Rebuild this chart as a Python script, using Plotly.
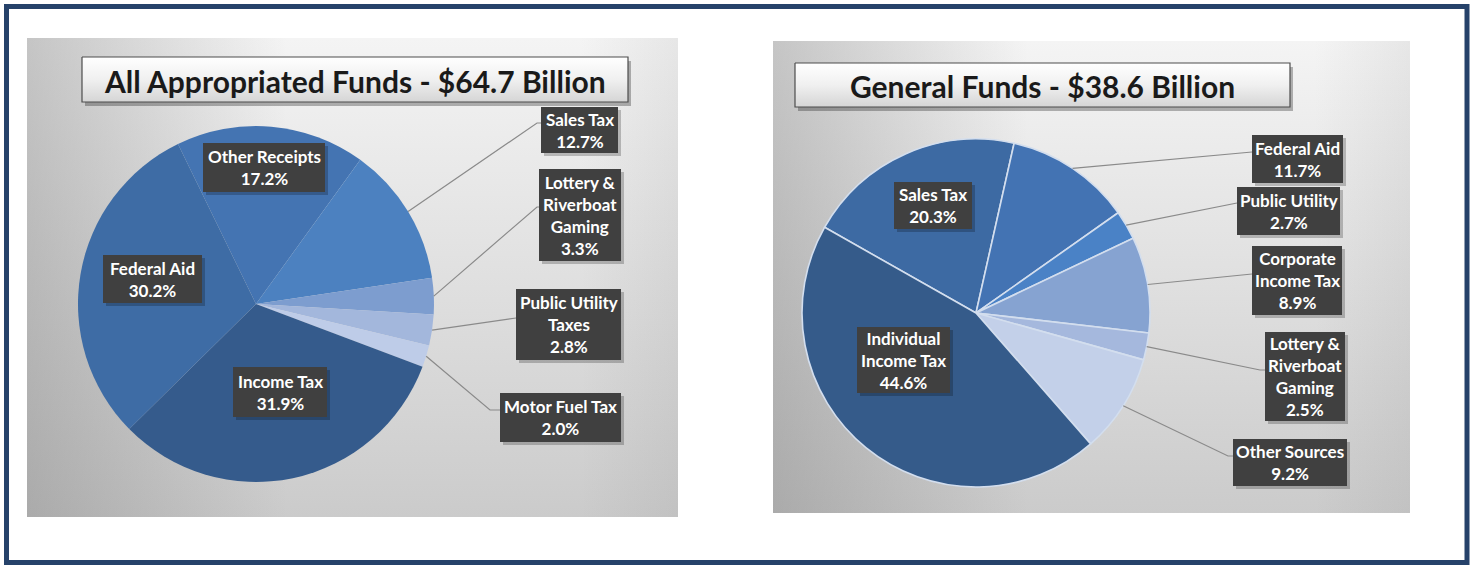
import math
import plotly.graph_objects as go

W, H = 1474, 565

# ---- data -----------------------------------------------------------------
all_title = "All Appropriated Funds - $64.7 Billion"
all_categories = ["Other Receipts", "Sales Tax", "Lottery &\nRiverboat\nGaming",
                  "Public Utility\nTaxes", "Motor Fuel Tax", "Income Tax", "Federal Aid"]
all_shares = [17.2, 12.7, 3.3, 2.8, 2.0, 31.9, 30.2]

gen_title = "General Funds - $38.6 Billion"
gen_categories = ["Sales Tax", "Federal Aid", "Public Utility", "Corporate\nIncome Tax",
                  "Lottery &\nRiverboat\nGaming", "Other Sources", "Individual\nIncome Tax"]
gen_shares = [20.3, 11.7, 2.7, 8.9, 2.5, 9.2, 44.6]

# ---- styling / layout ------------------------------------------------------
FONT = "Lato"
LABEL_BG = "#404040"
LEADER = "#8a8a8a"
FRAME = "#26426a"

all_colors = ["#4474b2", "#4c81c0", "#7d9dcf", "#a3b7dc", "#becce8", "#355b8c", "#3e6ca5"]
gen_colors = ["#3d6aa3", "#4373b3", "#4a82c6", "#86a3d1", "#a5b8dd", "#c3d0e9", "#355b8a"]

panels = [
    dict(
        title=all_title, cats=all_categories, vals=all_shares, colors=all_colors,
        bg=(27, 38, 678, 517), title_box=(82, 57, 628, 102),
        center=(256, 304), radius=178, rotation=-26, slice_line=0,
        boxes=[(203, 143, 325, 192), (541, 107, 618, 153), (539, 169, 621, 261),
               (516, 289, 621, 360), (500, 393, 621, 442), (233, 367, 327, 417),
               (103, 255, 202, 303)],
        # elbow point and box attachment point of each leader (None = label inside)
        leaders=[None, ((537, 123), (541, 123)), ((537, 207), (539, 207)),
                 (None, (516, 318)), ((490, 410), (500, 410)), None, None],
    ),
    dict(
        title=gen_title, cats=gen_categories, vals=gen_shares, colors=gen_colors,
        bg=(773, 41, 1410, 513), title_box=(795, 63, 1290, 107),
        center=(976, 313), radius=174, rotation=-60.5, slice_line=1.6,
        boxes=[(894, 182, 972, 229), (1252, 135, 1343, 183), (1237, 187, 1340, 235),
               (1252, 246, 1342, 315), (1265, 332, 1345, 421), (1233, 439, 1347, 486),
               (857, 327, 950, 393)],
        leaders=[None, (None, (1252, 152)), (None, (1237, 203)), (None, (1252, 274)),
                 ((1260, 370), (1265, 370)), ((1228, 456), (1233, 456)), None],
    ),
]


def rect_xy(x0, y0, x1, y1):
    return [x0, x1, x1, x0, x0], [y0, y0, y1, y1, y0]


fig = go.Figure()
shapes = []
annotations = []

# outer frame
shapes.append(dict(type="rect", xref="x", yref="y", x0=6.5, y0=6.5, x1=1467, y1=562.5,
                   line=dict(color=FRAME, width=5), fillcolor="rgba(0,0,0,0)", layer="below"))

for p in panels:
    x0, y0, x1, y1 = p["bg"]
    xs, ys = rect_xy(x0, y0, x1, y1)
    # panel background: light at the top fading to grey, darker towards the left edge
    fig.add_trace(go.Scatter(
        x=xs, y=ys, mode="none", fill="toself", hoverinfo="skip", showlegend=False,
        fillgradient=dict(type="vertical",
                          colorscale=[[0, "#cbcbcb"], [0.55, "#e2e2e2"], [1, "#f4f4f4"]])))
    fig.add_trace(go.Scatter(
        x=xs, y=ys, mode="none", fill="toself", hoverinfo="skip", showlegend=False,
        fillgradient=dict(type="horizontal",
                          colorscale=[[0, "rgba(110,110,110,0.35)"], [0.4, "rgba(110,110,110,0)"],
                                      [0.85, "rgba(110,110,110,0)"], [1, "rgba(110,110,110,0.1)"]])))

    # title box with shadow
    tx0, ty0, tx1, ty1 = p["title_box"]
    sx, sy = rect_xy(tx0 + 3, ty0 + 4, tx1 + 3, ty1 + 4)
    fig.add_trace(go.Scatter(x=sx, y=sy, mode="none", fill="toself", hoverinfo="skip",
                             showlegend=False, fillcolor="rgba(0,0,0,0.28)"))
    bx, by = rect_xy(tx0, ty0, tx1, ty1)
    fig.add_trace(go.Scatter(
        x=bx, y=by, mode="lines", fill="toself", hoverinfo="skip", showlegend=False,
        line=dict(color="#4d4d4d", width=1.2),
        fillgradient=dict(type="vertical",
                          colorscale=[[0, "#d5d5d5"], [0.5, "#f0f0f0"], [1, "#ffffff"]])))
    annotations.append(dict(x=(tx0 + tx1) / 2, y=(ty0 + ty1) / 2 + 1, xref="x", yref="y",
                            text=p["title"], showarrow=False,
                            font=dict(family=FONT, size=30, color="#1a1a1a", weight="bold")))

    # pie
    cx, cy = p["center"]
    r = p["radius"]
    fig.add_trace(go.Pie(
        labels=[c.replace("\n", " ") for c in p["cats"]], values=p["vals"],
        sort=False, direction="clockwise", rotation=p["rotation"],
        marker=dict(colors=p["colors"], line=dict(color="#d3deee", width=p["slice_line"])),
        textinfo="none", hoverinfo="label+percent", showlegend=False,
        domain=dict(x=[(cx - r) / W, (cx + r) / W], y=[(H - cy - r) / H, (H - cy + r) / H]),
    ))

    # labels and leader lines
    total = sum(p["vals"])
    cum = 0.0
    for cat, val, box, lead in zip(p["cats"], p["vals"], p["boxes"], p["leaders"]):
        mid = math.radians(p["rotation"] + 360.0 * (cum + val / 2.0) / total)
        cum += val
        if lead is not None:
            sx0 = cx + r * math.sin(mid)
            sy0 = cy - r * math.cos(mid)
            elbow, end = lead
            pts = [(sx0, sy0)] + ([elbow] if elbow else []) + [end]
            path = "M " + " L ".join(f"{px:.1f},{py:.1f}" for px, py in pts)
            shapes.append(dict(type="path", xref="x", yref="y", path=path,
                               line=dict(color=LEADER, width=1.2), layer="above"))
        lx0, ly0, lx1, ly1 = box
        shapes.append(dict(type="rect", xref="x", yref="y", x0=lx0 + 3, y0=ly0 + 3,
                           x1=lx1 + 3, y1=ly1 + 3, fillcolor="rgba(0,0,0,0.22)",
                           line=dict(width=0), layer="above"))
        shapes.append(dict(type="rect", xref="x", yref="y", x0=lx0, y0=ly0, x1=lx1, y1=ly1,
                           fillcolor=LABEL_BG, line=dict(width=0), layer="above"))
        annotations.append(dict(x=(lx0 + lx1) / 2, y=(ly0 + ly1) / 2, xref="x", yref="y",
                                text=cat.replace("\n", "<br>") + f"<br>{val:.1f}%",
                                showarrow=False, align="center",
                                font=dict(family=FONT, size=17, color="white", weight="bold")))

fig.update_layout(
    width=W, height=H, margin=dict(l=0, r=0, t=0, b=0),
    paper_bgcolor="white", plot_bgcolor="white",
    xaxis=dict(range=[0, W], visible=False, fixedrange=True),
    yaxis=dict(range=[H, 0], visible=False, fixedrange=True),
    shapes=shapes, annotations=annotations, showlegend=False,
)

fig.write_html("out.html")
